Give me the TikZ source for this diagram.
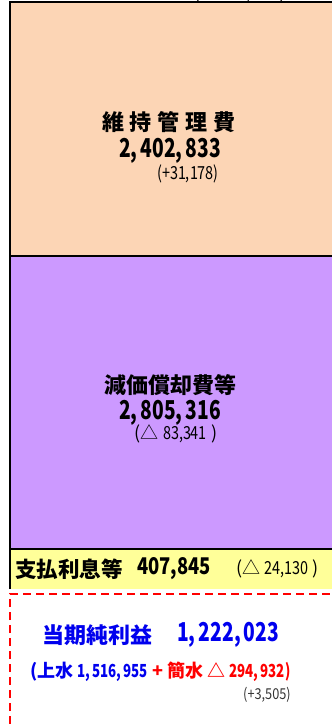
\documentclass[tikz,border=0pt]{standalone}
\usepackage{fontspec}
\setmainfont{Noto Sans CJK JP}
\definecolor{peach}{HTML}{FCD5B5}
\definecolor{lav}{HTML}{CC99FF}
\definecolor{lyel}{HTML}{FFFF99}
\definecolor{pblue}{HTML}{0000EE}
\definecolor{pred}{HTML}{FF0000}
\newcommand{\nx}[2][0.74]{\scalebox{#1}[1]{#2}}
\tikzset{
  big/.style={font=\fontsize{22}{24}\selectfont\bfseries, inner sep=0pt},
  num/.style={font=\fontsize{26}{28}\selectfont\bfseries, inner sep=0pt},
  small/.style={font=\fontsize{18}{20}\selectfont, inner sep=0pt},
  edge/.style={line width=1.4pt, black},
}
\begin{document}
\begin{tikzpicture}[x=1pt,y=-1pt]
\useasboundingbox (0,0) rectangle (332,724);
% fills
\fill[peach] (10,2) rectangle (340,256);
\fill[lav] (10,256) rectangle (340,549);
\fill[lyel] (10,549) rectangle (340,589);
% borders
\draw[edge] (10,589) -- (10,2) -- (340,2);
\draw[edge] (10,256) -- (340,256);
\draw[edge] (10,549) -- (340,549);
\draw[pred, line width=2pt, dash pattern=on 8pt off 5pt] (10,724) -- (10,594) -- (340,594);
% top clipped text
\node[small, anchor=south] (topd) at (240,3) {(△ \nx[0.8]{112,220} )};
% peach
\node[big] (mt) at (169,122) {維\hspace{6pt}持\hspace{6pt}管\hspace{6pt}理\hspace{6pt}費};
\node[num] (mtv) at (170,151) {\nx{2,\,402,\,833}};
\node[small] (mtd) at (188,174) {\nx[0.8]{(+31,178)}};
% purple
\node[big] (dp) at (170,385) {減価償却費等};
\node[num] (dpv) at (170,413) {\nx{2,\,805,\,316}};
\node[small] (dpd) at (176,434) {(△ \nx[0.8]{83,341} )};
% yellow
\node[anchor=west, inner sep=0pt, font=\fontsize{21.5}{23}\selectfont\bfseries] (ip) at (15,569) {支払利息等};
\node[anchor=west, inner sep=0pt, font=\fontsize{23}{25}\selectfont\bfseries] (ipv) at (137,569) {\nx[0.8]{407,845}};
\node[small, anchor=west] (ipd) at (236,569) {(△ \nx[0.8]{24,130} )};
% red box
\node[big, anchor=west, text=pblue] (np) at (42,635) {当期純利益};
\node[num, anchor=west, text=pblue] (npv) at (177,635) {\nx{1,\,222,\,023}};
\node[anchor=west, inner sep=0pt, font=\fontsize{18}{20}\selectfont\bfseries] (br) at (30,672)
  {\textcolor{pblue}{(上水 \nx[0.74]{1,\,516,\,955}} \textcolor{pred}{+ 簡水 △ \nx[0.74]{294,\,932)}}};
\node[anchor=west, inner sep=0pt, font=\fontsize{15}{17}\selectfont, text=black!80] (nd) at (243,695) {\nx[0.85]{(+3,505)}};
\end{tikzpicture}
\end{document}
